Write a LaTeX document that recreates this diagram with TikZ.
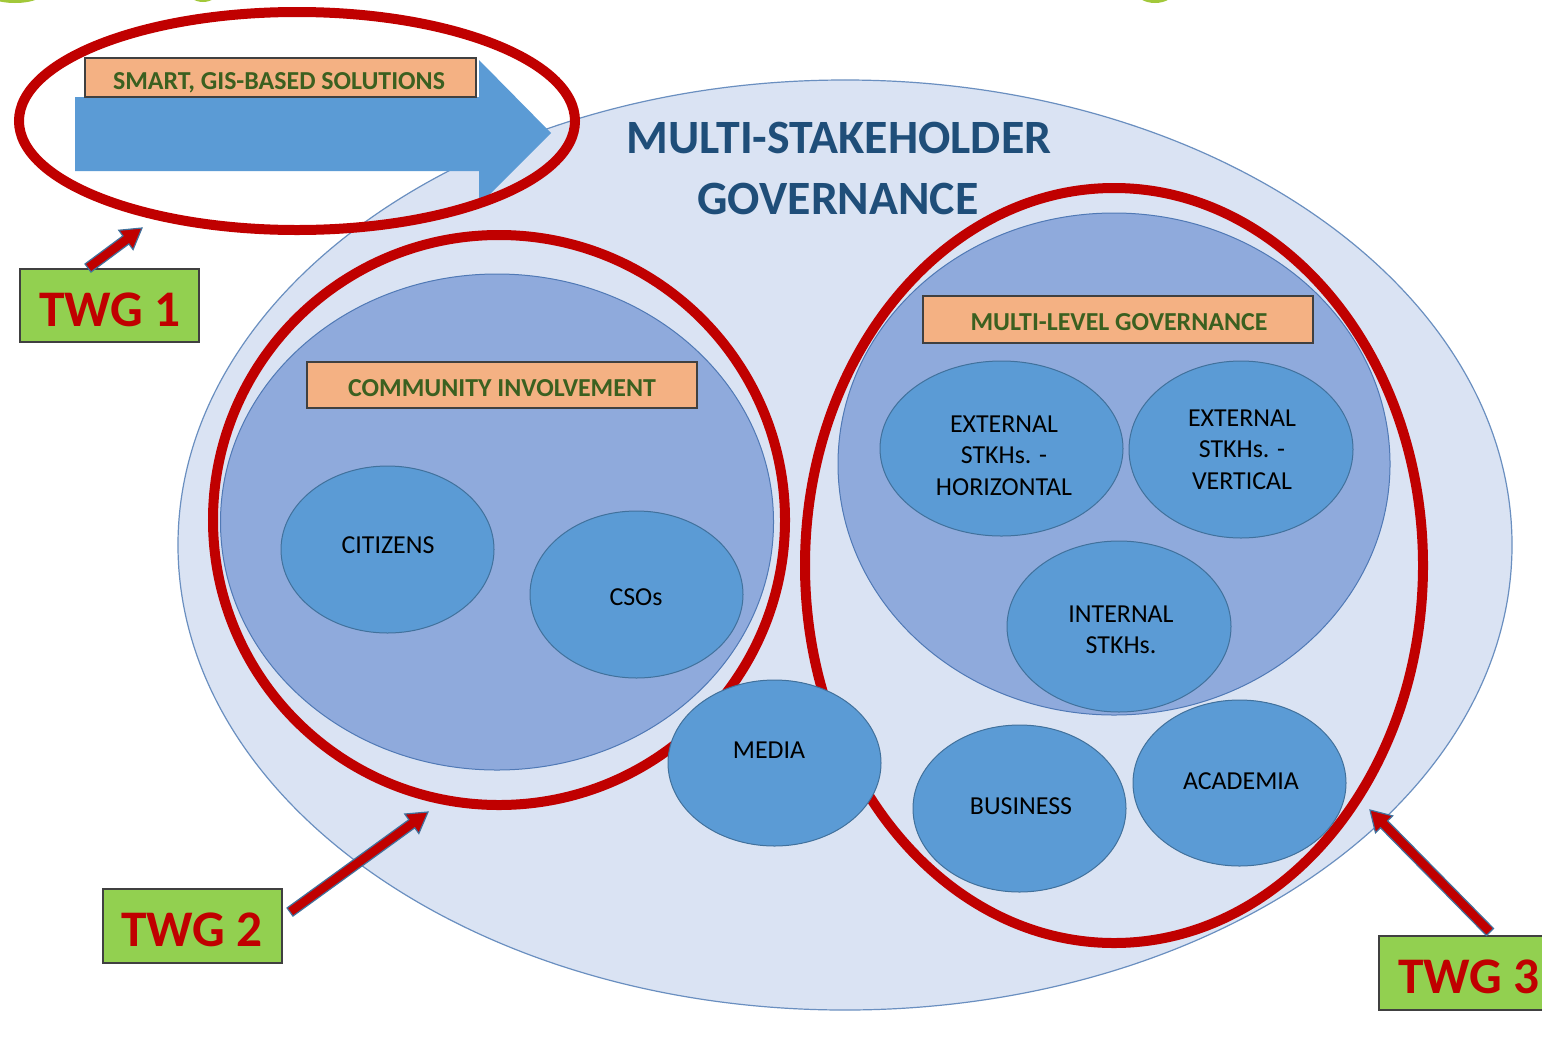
\documentclass[tikz,border=0pt]{standalone}
\usepackage{fontspec}
\setmainfont{Carlito}
\usetikzlibrary{shapes.geometric,calc}
\definecolor{lightbg}{HTML}{DAE3F3}
\definecolor{lightbd}{HTML}{6A8FC0}
\definecolor{midbg}{HTML}{8FAADC}
\definecolor{midbd}{HTML}{5079B5}
\definecolor{smallbg}{HTML}{5B9BD5}
\definecolor{smallbd}{HTML}{41719C}
\definecolor{ringred}{HTML}{C00000}
\definecolor{orangebg}{HTML}{F4B183}
\definecolor{orangetx}{HTML}{3B6020}
\definecolor{greenbg}{HTML}{92D050}
\definecolor{titleblue}{HTML}{1F4E79}
\definecolor{sliver}{HTML}{A2C83A}
\newcommand\fatarrow[2]{%
  \coordinate (fa-h) at ($(#2)!20bp!(#1)$);
  \filldraw[twgarrow] ($(#1)!5bp!90:(#2)$) -- ($(fa-h)!5bp!-90:(#1)$) -- ($(fa-h)!12bp!-90:(#1)$) -- (#2) -- ($(fa-h)!12bp!90:(#1)$) -- ($(fa-h)!5bp!90:(#1)$) -- ($(#1)!5bp!-90:(#2)$) -- cycle;}
\begin{document}
\begin{tikzpicture}[x=1bp,y=-1bp,
  bigell/.style={ellipse, fill=lightbg, draw=lightbd, line width=1.2bp, inner sep=0pt},
  midell/.style={ellipse, fill=midbg, draw=midbd, line width=1bp, inner sep=0pt},
  smallell/.style={ellipse, fill=smallbg, draw=smallbd, line width=1bp, inner sep=0pt},
  ring/.style={ellipse, draw=ringred, line width=10bp, inner sep=0pt},
  orangebox/.style={rectangle, fill=orangebg, draw=black!75, line width=1.8bp, inner sep=0pt},
  orangetext/.style={text=orangetx, font=\bfseries\fontsize{26}{30}\selectfont, inner sep=0pt},
  greenbox/.style={rectangle, fill=greenbg, draw=black!75, line width=1.8bp, inner sep=0pt},
  twgtext/.style={text=ringred, font=\bfseries\fontsize{51.5}{60}\selectfont, inner sep=0pt},
  smalltext/.style={text=black, font=\fontsize{26}{31.5}\selectfont, align=center, inner sep=0pt},
  titletext/.style={text=titleblue, font=\bfseries\fontsize{48}{61}\selectfont, inner sep=0pt},
  twgarrow/.style={fill=ringred, draw=smallbd, line width=1.2bp, line join=miter},
  bluearrow/.style={fill=smallbg, draw=none}]
\useasboundingbox (0,0) rectangle (1542,1038);
\clip (0,0) rectangle (1542,1038);
\fill[white] (0,0) rectangle (1542,1038);
% slivers at the top edge
\fill[sliver] (15,-10) ellipse [x radius=32, y radius=13];
\fill[sliver] (203,-9) ellipse [x radius=15, y radius=11];
\fill[sliver] (1155,-10) ellipse [x radius=20, y radius=13];
% big governance ellipse
\node[bigell, minimum width=1334bp, minimum height=930bp] (gov) at (845,545) {};
% big blue arrow
\coordinate (ba1) at (75,97);
\coordinate (ba2) at (479,97);
\coordinate (ba3) at (479,60);
\coordinate (ba4) at (551,133);
\coordinate (ba5) at (479,205);
\coordinate (ba6) at (479,171);
\coordinate (ba7) at (75,171);
\fill[bluearrow] (ba1) -- (ba2) -- (ba3) -- (ba4) -- (ba5) -- (ba6) -- (ba7) -- cycle;
\node[orangebox, minimum width=391bp, minimum height=39bp] (smartbox) at (280.5,77.5) {};
\node[orangetext] (smart) at (279,83) {SMART, GIS-BASED SOLUTIONS};
% title
\node[titletext] (title1) at (839,138) {MULTI-STAKEHOLDER};
\node[titletext] (title2) at (838,199) {GOVERNANCE};
% medium circles
\node[midell, minimum width=553bp, minimum height=496bp] (comm) at (497,522) {};
\node[midell, minimum width=552bp, minimum height=502bp] (mlg) at (1114,464) {};
% red rings
\node[ring, minimum width=556bp, minimum height=218bp] (ring1) at (297,121) {};
\node[ring, minimum width=572bp, minimum height=570bp] (ring2) at (499,520) {};
\node[ring, minimum width=618bp, minimum height=755bp] (ring3) at (1114,565.5) {};
% orange headers
\node[orangebox, minimum width=390bp, minimum height=46bp] (commbox) at (502,385) {};
\node[orangetext] (commt) at (502,388) {COMMUNITY INVOLVEMENT};
\node[orangebox, minimum width=390bp, minimum height=47bp] (mlgbox) at (1118,319.5) {};
\node[orangetext] (mlgt) at (1119,322) {MULTI-LEVEL GOVERNANCE};
% small ellipses
\node[smallell, minimum width=213bp, minimum height=167bp] (cit) at (387.5,549.5) {};
\node[smalltext] (citt) at (388,545) {CITIZENS};
\node[smallell, minimum width=213bp, minimum height=167bp] (cso) at (636.5,594.5) {};
\node[smalltext] (csot) at (636,597) {CSOs};
\node[smallell, minimum width=213bp, minimum height=166bp] (media) at (774.5,763) {};
\node[smalltext] (mediat) at (769,750) {MEDIA};
\node[smallell, minimum width=243bp, minimum height=175bp] (exth) at (1001.5,448.5) {};
\node[smalltext] (extht) at (1004,455.5) {EXTERNAL\\STKHs. -\\HORIZONTAL};
\node[smallell, minimum width=224bp, minimum height=177bp] (extv) at (1241,449.5) {};
\node[smalltext] (extvt) at (1242,449.5) {EXTERNAL\\STKHs. -\\VERTICAL};
\node[smallell, minimum width=224bp, minimum height=171bp] (intl) at (1119,626.5) {};
\node[smalltext] (intlt) at (1121,629.5) {INTERNAL\\STKHs.};
\node[smallell, minimum width=213bp, minimum height=167bp] (bus) at (1019.5,808.5) {};
\node[smalltext] (bust) at (1021,806) {BUSINESS};
\node[smallell, minimum width=213bp, minimum height=166bp] (acad) at (1239.5,783) {};
\node[smalltext] (acadt) at (1241,781) {ACADEMIA};
% TWG boxes
\node[greenbox, minimum width=179bp, minimum height=73bp] (twg1) at (109.5,305.5) {};
\node[twgtext] (twg1t) at (110,310) {TWG 1};
\node[greenbox, minimum width=179bp, minimum height=74bp] (twg2) at (192.5,926) {};
\node[twgtext] (twg2t) at (192,930) {TWG 2};
\node[greenbox, minimum width=200bp, minimum height=74bp] (twg3) at (1479,973) {};
\node[twgtext, anchor=west] (twg3t) at (1398,977) {TWG 3};
% TWG arrows
\coordinate (a1s) at (88,268);
\coordinate (a1e) at (142,228);
\coordinate (a2s) at (290,912);
\coordinate (a2e) at (428,812);
\coordinate (a3s) at (1490,932);
\coordinate (a3e) at (1370,810);
\fatarrow{a1s}{a1e}
\fatarrow{a2s}{a2e}
\fatarrow{a3s}{a3e}
\end{tikzpicture}
\end{document}
